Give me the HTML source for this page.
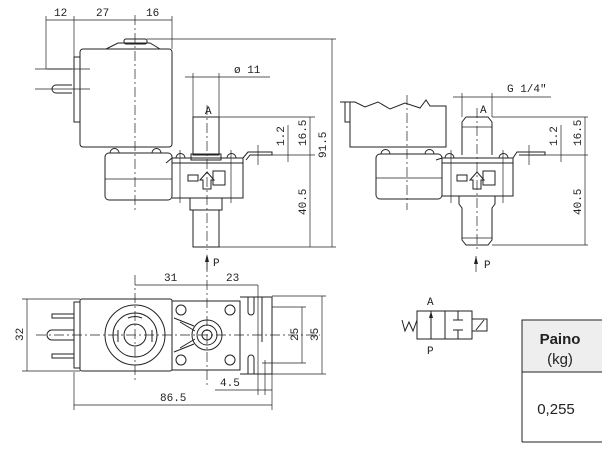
<!DOCTYPE html>
<html><head><meta charset="utf-8"><style>
html,body{margin:0;padding:0;background:#fff;width:602px;height:467px;overflow:hidden}
svg{display:block}
text{font-family:"Liberation Mono",monospace;font-size:11px;fill:#222}
.s{fill:none;stroke:#222;stroke-width:1}
.t{fill:none;stroke:#222;stroke-width:0.7}
.c{fill:none;stroke:#222;stroke-width:0.7;stroke-dasharray:10 3 2 3}
</style></head><body>
<svg width="602" height="467" viewBox="0 0 602 467" xmlns="http://www.w3.org/2000/svg">
<!-- VIEW 1 -->
<g>
<line class="t" x1="46" y1="20" x2="172" y2="20"/>
<line class="t" x1="46" y1="16" x2="46" y2="69"/>
<line class="t" x1="74" y1="16" x2="74" y2="57"/>
<line class="t" x1="172" y1="16" x2="172" y2="49"/>
<text x="54" y="16">12</text><text x="96" y="16">27</text><text x="146" y="16">16</text>
<rect class="s" x="80" y="49" width="92" height="98" rx="3"/>
<path class="s" d="M106 49 L118 43 L150 43 L160 49"/>
<rect class="s" x="124" y="39" width="23" height="5" rx="2"/>
<rect class="s" x="74" y="57" width="6" height="65"/>
<line class="t" x1="35" y1="69" x2="90" y2="69"/><line class="s" x1="47" y1="69" x2="72" y2="69" stroke-width="2"/>
<line class="t" x1="35" y1="89" x2="90" y2="89"/>
<path class="s" d="M72 85 L56 85 A4 4 0 0 0 56 93 L72 93"/>
<line class="c" x1="135" y1="15" x2="135" y2="212"/>
<rect class="s" x="105" y="153" width="67" height="47" rx="4"/>
<line class="t" x1="105" y1="179" x2="172" y2="179"/>
<path class="s" d="M110 153 a4 4 0 0 1 9 0 M152 153 a4 4 0 0 1 9 0"/>
<path class="s" d="M166 163 L172 158 L243 158 L243 198 L172 198"/>
<path class="s" d="M172 163 L243 163 M243 158 L248 152 L272 152 L272 155 L250 155 L246 160"/>
<path class="s" d="M176 158 a4 4 0 0 1 9 0 M227 158 a4 4 0 0 1 9 0"/>
<line class="t" x1="180" y1="150" x2="180" y2="203"/><line class="t" x1="231" y1="150" x2="231" y2="203"/>
<line class="t" x1="258" y1="145" x2="258" y2="165"/>
<rect class="s" x="188" y="175" width="10" height="6"/><rect class="s" x="213" y="171" width="12" height="14"/>
<path class="s" d="M203 189 L203 180 L200 180 L207 172 L214 180 L211 180 L211 189 Z"/>
<rect class="s" x="193" y="117" width="26" height="38"/>
<rect class="s" x="191" y="154" width="30" height="6"/>
<path class="s" d="M190 198 L190 210 L222 210 L222 198"/>
<rect class="s" x="193" y="210" width="26" height="37"/>
<line class="c" x1="207" y1="105" x2="207" y2="250"/>
<text x="205" y="114" font-size="10">A</text>
<line class="t" x1="185" y1="77" x2="270" y2="77"/>
<line class="t" x1="193" y1="73" x2="193" y2="117"/><line class="t" x1="219" y1="73" x2="219" y2="117"/>
<text x="234" y="73">ø 11</text>
<line class="t" x1="147" y1="39" x2="336" y2="39"/>
<line class="t" x1="219" y1="117" x2="315" y2="117"/>
<line class="t" x1="272" y1="155" x2="315" y2="155"/>
<line class="t" x1="219" y1="247" x2="336" y2="247"/>
<line class="t" x1="332" y1="39" x2="332" y2="247"/>
<line class="t" x1="310" y1="117" x2="310" y2="247"/>
<line class="t" x1="288" y1="125" x2="288" y2="162"/>
<text transform="translate(326,158) rotate(-90)">91.5</text>
<text transform="translate(306,146) rotate(-90)">16.5</text>
<text transform="translate(306,215) rotate(-90)">40.5</text>
<text transform="translate(284,146) rotate(-90)">1.2</text>
<line class="t" x1="207" y1="256" x2="207" y2="270"/><path d="M205 262 L207 254 L209 262 Z" fill="#222"/>
<text x="213" y="266" font-size="10">P</text>
</g>
<!-- VIEW 2 -->
<g>
<path class="s" d="M340 102 L350 102 L350 147 L446 147 L446 106 L430 106 L426 100 L420 108 L405 103 L390 109 L378 102 L365 107 L355 102 L350 102"/>
<rect class="s" x="345" y="102" width="5" height="20"/>
<line class="c" x1="407" y1="95" x2="407" y2="210"/>
<rect class="s" x="376" y="154" width="66" height="45" rx="4"/>
<line class="t" x1="376" y1="178" x2="442" y2="178"/>
<path class="s" d="M381 154 a4 4 0 0 1 9 0 M425 154 a4 4 0 0 1 9 0"/>
<path class="s" d="M436 160 L442 158 L513 158 L513 196 L442 196"/>
<path class="s" d="M442 163 L513 163 M513 158 L517 152 L545 152 L545 155 L519 155"/>
<path class="s" d="M445 158 a4 4 0 0 1 9 0 M499 158 a4 4 0 0 1 9 0"/>
<line class="t" x1="451" y1="150" x2="451" y2="203"/><line class="t" x1="503" y1="150" x2="503" y2="203"/>
<line class="t" x1="529" y1="145" x2="529" y2="165"/>
<rect class="s" x="457" y="175" width="10" height="6"/><rect class="s" x="483" y="171" width="12" height="14"/>
<path class="s" d="M473 189 L473 180 L470 180 L477 172 L484 180 L481 180 L481 189 Z"/>
<path class="s" d="M462 155 L462 122 L466 117 L488 117 L492 122 L492 155"/>
<line class="t" x1="462" y1="127" x2="492" y2="127"/>
<path class="s" d="M459 196 L459 204 L462 208 L462 240 L466 245 L488 245 L492 240 L492 208 L495 204 L495 196"/>
<line class="t" x1="462" y1="238" x2="492" y2="238"/>
<line class="c" x1="477" y1="108" x2="477" y2="250"/>
<text x="480" y="113" font-size="10">A</text>
<line class="t" x1="453" y1="97" x2="551" y2="97"/>
<line class="t" x1="462" y1="93" x2="462" y2="117"/><line class="t" x1="492" y1="93" x2="492" y2="117"/>
<text x="507" y="92">G 1/4"</text>
<line class="t" x1="492" y1="117" x2="588" y2="117"/>
<line class="t" x1="545" y1="155" x2="588" y2="155"/>
<line class="t" x1="492" y1="245" x2="588" y2="245"/>
<line class="t" x1="585" y1="117" x2="585" y2="245"/>
<line class="t" x1="561" y1="125" x2="561" y2="162"/>
<text transform="translate(581,146) rotate(-90)">16.5</text>
<text transform="translate(581,215) rotate(-90)">40.5</text>
<text transform="translate(557,146) rotate(-90)">1.2</text>
<line class="t" x1="476" y1="256" x2="476" y2="272"/><path d="M474 264 L476 256 L478 264 Z" fill="#222"/>
<text x="484" y="268" font-size="10">P</text>
</g>
<!-- VIEW 3 top -->
<g>
<rect class="s" x="80" y="299" width="92" height="72" rx="2"/>
<rect class="s" x="74" y="302" width="6" height="66"/>
<path class="s" d="M74 314 L52 314 L52 318 L74 318 M74 354 L52 354 L52 358 L74 358 M74 330 L52 330 a5 5 0 0 0 0 10 L74 340"/>
<line class="c" x1="36" y1="335" x2="320" y2="335"/>
<line class="c" x1="135" y1="275" x2="135" y2="382"/>
<line class="c" x1="207" y1="262" x2="207" y2="385"/>
<circle class="s" cx="135" cy="335" r="30"/>
<circle class="s" cx="135" cy="335" r="22"/>
<circle class="s" cx="135" cy="335" r="11" stroke-width="2"/>
<path class="s" d="M128 318 a18 18 0 0 1 14 0 M118 330 L118 342 M152 330 L152 342"/>
<rect class="s" x="172" y="301" width="68" height="69"/>
<circle class="s" cx="207" cy="335" r="15"/><circle class="s" cx="207" cy="335" r="10"/><circle class="s" cx="207" cy="335" r="5"/>
<path class="s" d="M174 318 L194 326 M174 352 L194 344 M180 322 L195 331 M180 348 L195 339"/>
<circle class="s" cx="181" cy="310" r="5"/><circle class="s" cx="181" cy="360" r="5"/>
<circle class="s" cx="230" cy="310" r="5"/><circle class="s" cx="230" cy="360" r="5"/>
<path class="s" d="M240 297 L272 297 L272 374 L240 374 M248 297 L248 312 a3 3 0 0 0 6 0 L254 297 M262 297 L262 342 M248 374 L248 358 a3 3 0 0 1 6 0 L254 374"/>
<line class="t" x1="258" y1="285" x2="258" y2="395"/>
<line class="t" x1="265" y1="360" x2="265" y2="395"/>
<line class="t" x1="135" y1="285" x2="258" y2="285"/>
<text x="164" y="281">31</text><text x="226" y="281">23</text>
<line class="t" x1="22" y1="299" x2="80" y2="299"/><line class="t" x1="22" y1="371" x2="80" y2="371"/>
<line class="t" x1="27" y1="299" x2="27" y2="371"/>
<text transform="translate(23,341) rotate(-90)">32</text>
<line class="t" x1="272" y1="296" x2="326" y2="296"/><line class="t" x1="272" y1="374" x2="326" y2="374"/>
<line class="t" x1="272" y1="307" x2="306" y2="307"/><line class="t" x1="262" y1="363" x2="306" y2="363"/>
<line class="t" x1="302" y1="307" x2="302" y2="363"/><line class="t" x1="322" y1="296" x2="322" y2="374"/>
<text transform="translate(298,341) rotate(-90)">25</text>
<text transform="translate(318,341) rotate(-90)">35</text>
<line class="t" x1="215" y1="390" x2="272" y2="390"/>
<text x="220" y="386">4.5</text>
<line class="t" x1="74" y1="372" x2="74" y2="410"/><line class="t" x1="272" y1="374" x2="272" y2="410"/>
<line class="t" x1="74" y1="405" x2="272" y2="405"/>
<text x="160" y="401">86.5</text>
</g>
<!-- symbol -->
<g>
<rect class="s" x="417" y="311" width="28" height="28"/><rect class="s" x="445" y="311" width="27" height="28"/>
<rect class="s" x="472" y="319" width="15" height="12"/>
<path class="s" d="M476 330 L484 320"/>
<path class="s" d="M402 320 L405 331 L409 322 L413 331 L417 320"/>
<line class="s" x1="431" y1="311" x2="431" y2="339"/><path d="M429 318 L431 311 L433 318 Z" fill="#222"/>
<path class="s" d="M458 311 L458 320 M453 320 L463 320 M458 339 L458 330 M453 330 L463 330"/>
<text x="427" y="305" font-size="10">A</text><text x="427" y="354" font-size="10">P</text>
</g>
<!-- table -->
<rect x="522" y="320" width="82" height="52" fill="#eeeeee"/>
<path class="s" d="M522 442 L522 320 L604 320 M522 372 L604 372 M522 442 L604 442"/>
<text x="560" y="344" text-anchor="middle" style="font-family:'Liberation Sans',sans-serif;font-size:15px;font-weight:bold">Paino</text>
<text x="560" y="364" text-anchor="middle" style="font-family:'Liberation Sans',sans-serif;font-size:15px">(kg)</text>
<text x="556" y="414" text-anchor="middle" style="font-family:'Liberation Sans',sans-serif;font-size:15px">0,255</text>
</svg>
</body></html>
